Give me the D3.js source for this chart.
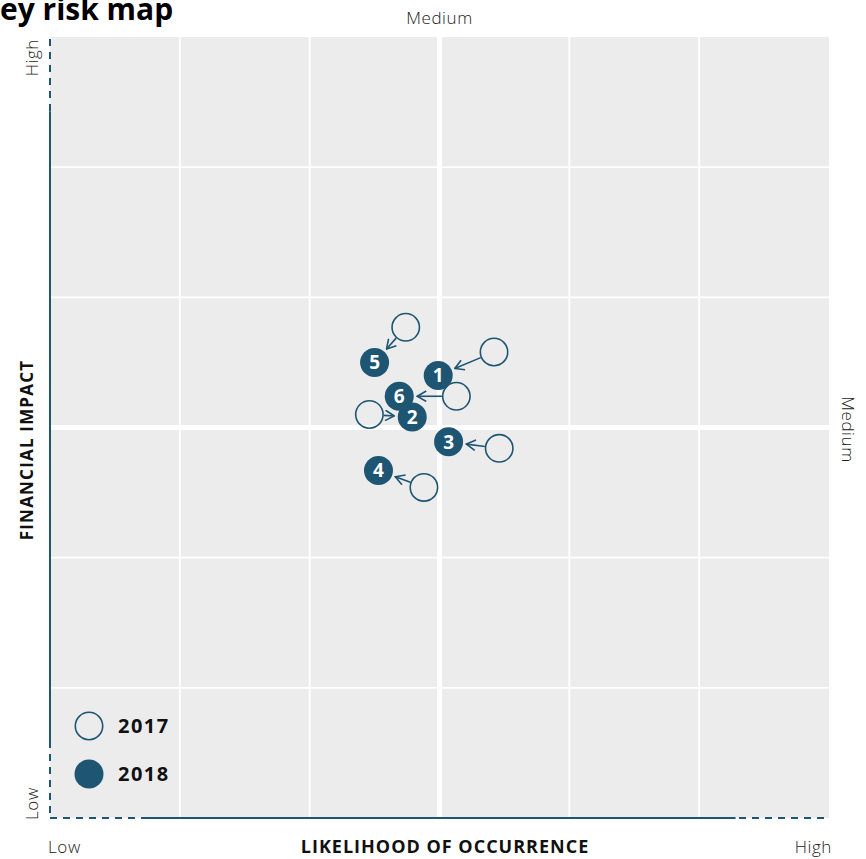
<!DOCTYPE html>
<html lang="en">
<head>
<meta charset="utf-8">
<title>Key risk map</title>
<script src="https://d3js.org/d3.v7.min.js"></script>
<style>
  body { margin: 0; background: #fff; }
  text { font-family: "Open Sans", sans-serif; }
</style>
</head>
<body>
<script>
// risk ids and positions on a 0..6 grid (likelihood, impact)
var risks = ["1", "2", "3", "4", "5", "6"];
var x2017 = [3.42, 2.46, 3.46, 2.88, 2.74, 3.13];
var y2017 = [3.58, 3.10, 2.84, 2.54, 3.77, 3.24];
var x2018 = [2.99, 2.79, 3.07, 2.53, 2.50, 2.69];
var y2018 = [3.40, 3.08, 2.89, 2.67, 3.50, 3.24];
var years = ["2017", "2018"];
var gridTicks = [0, 1, 2, 3, 4, 5, 6];

var width = 866, height = 859;
var pLeft = 50, pRight = 829, pTop = 37, pBottom = 818;
var blue = "#1d5572";

var svg = d3.select("body").append("svg")
    .attr("width", width)
    .attr("height", height);

var x = d3.scaleLinear().domain([0, 6]).range([pLeft, pRight]);
var y = d3.scaleLinear().domain([0, 6]).range([pBottom, pTop]);

svg.append("defs").append("marker")
    .attr("id", "arrow")
    .attr("viewBox", "0 0 12 12")
    .attr("refX", 11).attr("refY", 6)
    .attr("markerWidth", 12).attr("markerHeight", 12)
    .attr("markerUnits", "userSpaceOnUse")
    .attr("orient", "auto")
    .append("path")
    .attr("d", "M2,0.8 L11,6 L2,11.2")
    .attr("fill", "none")
    .attr("stroke", blue)
    .attr("stroke-width", 1.6);

// background
svg.append("rect")
    .attr("x", pLeft).attr("y", pTop)
    .attr("width", pRight - pLeft).attr("height", pBottom - pTop)
    .attr("fill", "#ececec");

// grid
svg.selectAll(".vgrid").data(gridTicks.slice(1, -1)).enter()
    .append("line")
    .attr("x1", d => x(d)).attr("x2", d => x(d))
    .attr("y1", pTop).attr("y2", pBottom)
    .attr("stroke", "#fff")
    .attr("stroke-width", d => d === 3 ? 5 : 1.8);

svg.selectAll(".hgrid").data(gridTicks.slice(1, -1)).enter()
    .append("line")
    .attr("y1", d => y(d)).attr("y2", d => y(d))
    .attr("x1", pLeft).attr("x2", pRight)
    .attr("stroke", "#fff")
    .attr("stroke-width", d => d === 3 ? 5 : 1.8);

// axes: dashed full length, solid middle part
var dash = "7,6";
svg.append("line")
    .attr("x1", pLeft).attr("x2", pLeft).attr("y1", pTop + 2).attr("y2", pBottom)
    .attr("stroke", blue).attr("stroke-width", 2).attr("stroke-dasharray", dash);
svg.append("line")
    .attr("x1", pLeft).attr("x2", pLeft).attr("y1", y(5.43)).attr("y2", y(0.55))
    .attr("stroke", blue).attr("stroke-width", 2);

svg.append("line")
    .attr("x1", pLeft).attr("x2", pRight).attr("y1", pBottom).attr("y2", pBottom)
    .attr("stroke", blue).attr("stroke-width", 2).attr("stroke-dasharray", dash);
svg.append("line")
    .attr("x1", x(0.75)).attr("x2", x(5.28)).attr("y1", pBottom).attr("y2", pBottom)
    .attr("stroke", blue).attr("stroke-width", 2);

// title
svg.append("text")
    .attr("x", -20).attr("y", 20)
    .attr("font-size", 30).attr("font-weight", 700)
    .attr("fill", "#000")
    .text("Key risk map");

// axis labels
function light(sel) {
    return sel.attr("font-size", 17).attr("font-weight", 300)
        .attr("fill", "#222").attr("letter-spacing", 0.6);
}

light(svg.append("text"))
    .attr("x", x(3)).attr("y", 24)
    .attr("text-anchor", "middle")
    .text("Medium");

light(svg.append("text"))
    .attr("transform", "translate(842," + (y(3) + 2) + ") rotate(90)")
    .attr("text-anchor", "middle")
    .text("Medium");

light(svg.append("text"))
    .attr("transform", "translate(38," + (pTop + 2) + ") rotate(-90)")
    .attr("text-anchor", "end")
    .text("High");

light(svg.append("text"))
    .attr("transform", "translate(38," + (pBottom + 2) + ") rotate(-90)")
    .attr("text-anchor", "start")
    .text("Low");

svg.append("text")
    .attr("transform", "translate(33,450) rotate(-90)")
    .attr("text-anchor", "middle")
    .attr("font-size", 17).attr("font-weight", 700).attr("fill", "#111")
    .attr("letter-spacing", 1.2)
    .text("FINANCIAL IMPACT");

light(svg.append("text"))
    .attr("x", pLeft - 2).attr("y", 853)
    .text("Low");

light(svg.append("text"))
    .attr("x", pRight + 3).attr("y", 853)
    .attr("text-anchor", "end")
    .text("High");

svg.append("text")
    .attr("x", 445).attr("y", 853)
    .attr("text-anchor", "middle")
    .attr("font-size", 18).attr("font-weight", 700).attr("fill", "#111")
    .attr("letter-spacing", 1)
    .text("LIKELIHOOD OF OCCURRENCE");

// points
var r = 14.5;
var rows = risks.map(function (id, i) {
    return { id: id, x0: x2017[i], y0: y2017[i], x1: x2018[i], y1: y2018[i] };
});

svg.selectAll(".old").data(rows).enter()
    .append("circle")
    .attr("cx", d => x(d.x0)).attr("cy", d => y(d.y0))
    .attr("r", r - 0.8)
    .attr("fill", "none")
    .attr("stroke", blue).attr("stroke-width", 1.6);

svg.selectAll(".move").data(rows).enter()
    .append("line")
    .each(function (d) {
        var ax = x(d.x0), ay = y(d.y0), bx = x(d.x1), by = y(d.y1);
        var len = Math.hypot(bx - ax, by - ay);
        var ux = (bx - ax) / len, uy = (by - ay) / len;
        d3.select(this)
            .attr("x1", ax + ux * r).attr("y1", ay + uy * r)
            .attr("x2", bx - ux * 18).attr("y2", by - uy * 18);
    })
    .attr("stroke", blue).attr("stroke-width", 1.6)
    .attr("marker-end", "url(#arrow)");

var cur = svg.selectAll(".cur").data(rows).enter()
    .append("g")
    .attr("transform", d => "translate(" + x(d.x1) + "," + y(d.y1) + ")");

cur.append("circle").attr("r", r).attr("fill", blue);
cur.append("text")
    .attr("text-anchor", "middle")
    .attr("dy", "0.36em")
    .attr("font-size", 19).attr("font-weight", 700).attr("fill", "#fff")
    .text(d => d.id);

// legend
var legend = svg.selectAll(".legend").data(years).enter()
    .append("g")
    .attr("transform", (d, i) => "translate(89," + (726 + i * 48) + ")");

legend.append("circle")
    .attr("r", (d, i) => i === 0 ? r - 0.8 : r)
    .attr("fill", (d, i) => i === 0 ? "none" : blue)
    .attr("stroke", (d, i) => i === 0 ? blue : "none")
    .attr("stroke-width", 1.6);

legend.append("text")
    .attr("x", 29).attr("dy", "0.36em")
    .attr("font-size", 20).attr("font-weight", 700).attr("fill", "#111")
    .attr("letter-spacing", 1.5)
    .text(d => d);
</script>
</body>
</html>
